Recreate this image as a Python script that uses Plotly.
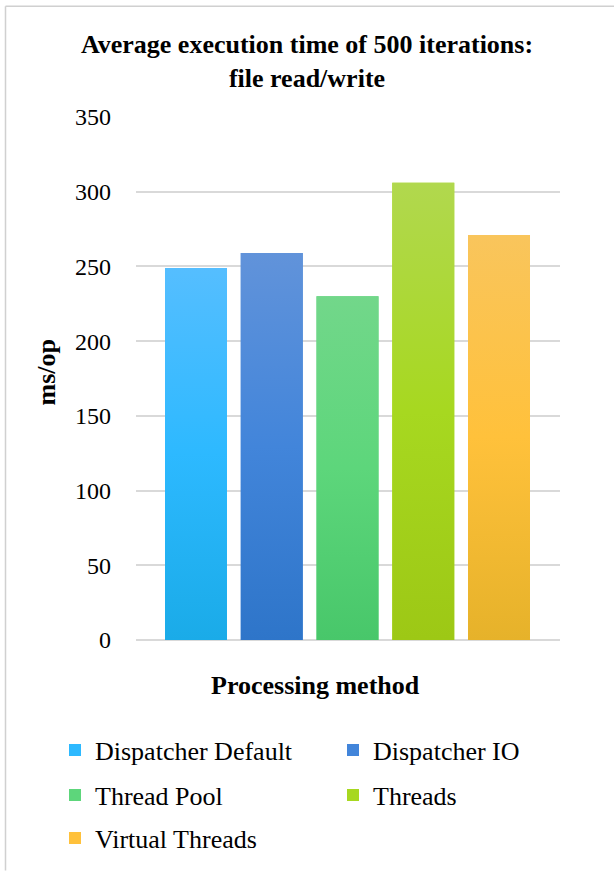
import plotly.graph_objects as go

# Data
methods = ["Dispatcher Default", "Dispatcher IO", "Thread Pool", "Threads", "Virtual Threads"]
ms_per_op = [249, 259, 230, 306, 271]

# Per-series gradient stops (bottom, middle, top)
bottom_colors = ["#1AABE8", "#2E75C9", "#48C76A", "#9DC815", "#E6B22A"]
mid_colors = ["#2DB9FF", "#4285DA", "#5DD67B", "#A7D820", "#FFC13B"]
top_colors = ["#55BEFF", "#6193DA", "#72D78A", "#B1D84E", "#F9C55C"]

y_ticks = [0, 50, 100, 150, 200, 250, 300, 350]

W, H = 614, 872
ML, MR, MT, MB = 136, 54, 117, 231
PW, PH = W - ML - MR, H - MT - MB

FONT = "Liberation Serif, Times New Roman, serif"
BAR_W = 0.818


def px_x(px):
    return (px - ML) / PW


def px_y(py):
    return (H - MB - py) / PH


# two-column legend: one legend box per entry, (left px, row centre px)
legend_ids = ["legend", "legend2", "legend3", "legend4", "legend5"]
legend_pos = [(55, 750), (333, 750), (55, 795), (333, 795), (55, 838)]

fig = go.Figure()
for i, (m, v) in enumerate(zip(methods, ms_per_op)):
    fig.add_trace(go.Bar(
        x=[i], y=[v], name=m, width=BAR_W,
        marker=dict(color=mid_colors[i], line=dict(width=0)),
        legend=legend_ids[i],
        hovertemplate=m + ": %{y} ms/op<extra></extra>",
    ))
    # vertical gradient fill laid over each bar
    fig.add_trace(go.Scatter(
        x=[i - BAR_W / 2, i + BAR_W / 2, i + BAR_W / 2, i - BAR_W / 2, i - BAR_W / 2],
        y=[0, 0, v, v, 0],
        mode="lines", line=dict(width=0), fill="toself",
        fillgradient=dict(type="vertical",
                          colorscale=[[0, bottom_colors[i]], [0.5, mid_colors[i]], [1, top_colors[i]]]),
        showlegend=False, hoverinfo="skip",
    ))

legend_layouts = {}
for lid, (lx, ly) in zip(legend_ids, legend_pos):
    legend_layouts[lid] = dict(
        orientation="h", xanchor="left", yanchor="middle",
        x=px_x(lx), y=px_y(ly),
        font=dict(family=FONT, size=26, color="#000000"),
        bgcolor="rgba(0,0,0,0)", itemclick=False, itemdoubleclick=False,
    )

fig.update_layout(
    width=W, height=H,
    margin=dict(l=ML, r=MR, t=MT, b=MB),
    paper_bgcolor="white", plot_bgcolor="white",
    barmode="overlay",
    showlegend=True,
    font=dict(family=FONT, color="#000000"),
    title=dict(
        text="<b>Average execution time of 500 iterations:<br>file read/write</b>",
        x=0.5, xref="container", xanchor="center",
        y=1 - 53 / H, yref="container", yanchor="middle",
        font=dict(family=FONT, size=26, color="#000000"),
    ),
    xaxis=dict(
        range=[-0.792, 4.805], showticklabels=False, showgrid=False,
        zeroline=False, showline=False, fixedrange=True,
    ),
    yaxis=dict(
        range=[0, 350], tickvals=y_ticks, ticks="",
        ticklabelstandoff=24,
        tickfont=dict(family=FONT, size=24, color="#000000"),
        showgrid=True, gridcolor="#D9D9D9", gridwidth=1.5,
        zeroline=True, zerolinecolor="#D9D9D9", zerolinewidth=1.5,
        showline=False, fixedrange=True,
    ),
    annotations=[
        dict(text="<b>ms/op</b>", textangle=-90, showarrow=False,
             xref="paper", yref="paper", x=px_x(47), y=px_y(373),
             xanchor="center", yanchor="middle",
             font=dict(family=FONT, size=26, color="#000000")),
        dict(text="<b>Processing method</b>", showarrow=False,
             xref="paper", yref="paper", x=px_x(315), y=px_y(687),
             xanchor="center", yanchor="middle",
             font=dict(family=FONT, size=26, color="#000000")),
    ],
    shapes=[
        dict(type="line", xref="paper", yref="paper",
             x0=px_x(5.5), x1=px_x(5.5), y0=px_y(6), y1=px_y(H),
             line=dict(color="#D0D0D0", width=1.5)),
        dict(type="line", xref="paper", yref="paper",
             x0=px_x(5.5), x1=px_x(W), y0=px_y(6), y1=px_y(6),
             line=dict(color="#D0D0D0", width=1.5)),
    ],
    **legend_layouts,
)

fig.write_html("out.html")
